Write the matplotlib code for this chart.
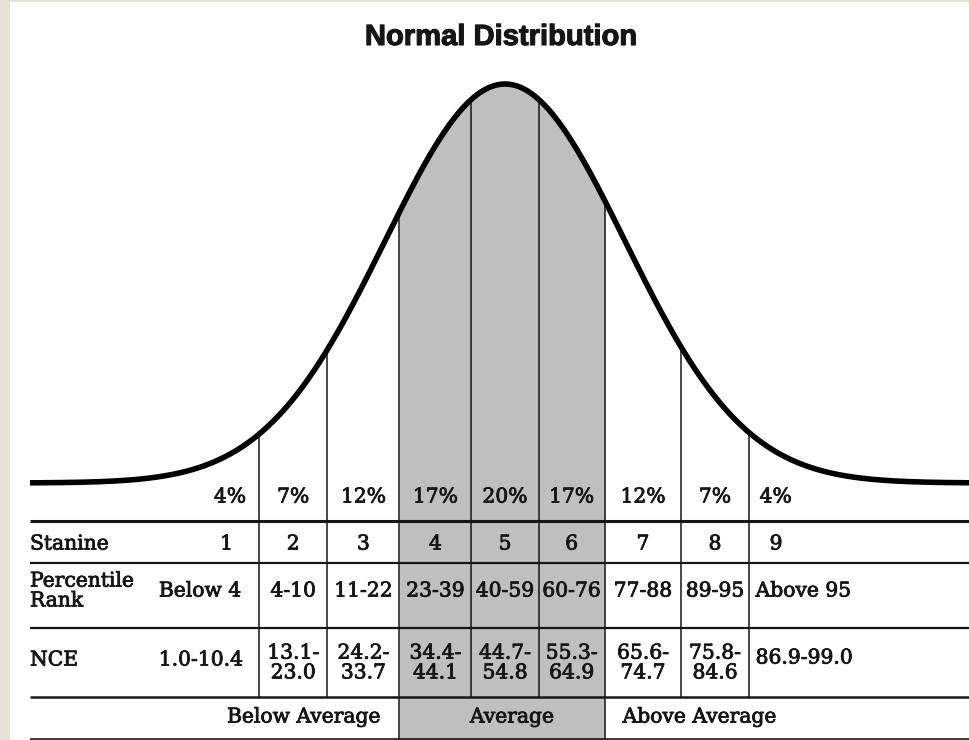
import numpy as np
import matplotlib.pyplot as plt
import matplotlib.patheffects as pe

# stanine column edges, in standard deviations of the drawn curve
edges_z = [-2.05, -1.48, -0.88, -0.28, 0.28, 0.83, 1.47, 2.03]
percents = ["4%", "7%", "12%", "17%", "20%", "17%", "12%", "7%", "4%"]
stanines = ["1", "2", "3", "4", "5", "6", "7", "8", "9"]
percentile = ["Below 4", "4-10", "11-22", "23-39", "40-59", "60-76", "77-88", "89-95", "Above 95"]
nce = ["1.0-10.4", "13.1-\n23.0", "24.2-\n33.7", "34.4-\n44.1", "44.7-\n54.8",
       "55.3-\n64.9", "65.6-\n74.7", "75.8-\n84.6", "86.9-99.0"]
row_labels = ["Stanine", "Percentile\nRank", "NCE"]
groups = ["Below Average", "Average", "Above Average"]
avg_cols = (3, 6)  # stanines 4-6 are shaded

# layout: x in z units (120 px per sd, mean at px 505), y in pixel rows
PX = 120.0
MID = 505.0
def zx(px):
    return (px - MID) / PX

BASE, PEAK = 483, 399
def curve(z):
    return BASE - PEAK * np.exp(-np.asarray(z) ** 2 / 2)

ink = "#161616"
gray = "#bfbfbf"
heavy = [pe.withStroke(linewidth=0.6, foreground=ink)]
txt = dict(family=["DejaVu Serif"], fontsize=14.6, color=ink, path_effects=heavy)

fig = plt.figure(figsize=(9.69, 7.40), dpi=100)
fig.patch.set_facecolor("#e4e2d5")
ax = fig.add_axes([10 / 969, 0, 959 / 969, 738 / 740])
ax.set_facecolor("white")
ax.set_xlim(zx(10), zx(969))
ax.set_ylim(740, 2)
ax.axis("off")
ax.add_patch(plt.Rectangle((zx(10), 2), zx(969) - zx(10), 738, color="white", zorder=0))

left, right = zx(30), zx(969)

# shaded average band
zz = np.linspace(edges_z[avg_cols[0] - 1], edges_z[avg_cols[1] - 1], 200)
ax.fill_between(zz, curve(zz), 740, color=gray, lw=0, zorder=1)

# column dividers
for i, e in enumerate(edges_z):
    bottom = 740 if i in (avg_cols[0] - 1, avg_cols[1] - 1) else 697
    ax.plot([e, e], [curve(e), bottom], color=ink, lw=1.1, zorder=2)

# row rules
for y, lw in [(521, 2.2), (563, 1.6), (628, 1.6), (697, 1.8), (739, 1.2)]:
    ax.plot([left, right], [y, y], color=ink, lw=lw, zorder=3, solid_capstyle="butt")

# the curve
zc = np.linspace(left, right, 600)
ax.plot(zc, curve(zc), color="black", lw=4.0, zorder=4, solid_capstyle="butt")

ax.text(zx(501), 37, "Normal Distribution", ha="center", va="center",
        family=["Liberation Sans", "DejaVu Sans"], weight="bold",
        fontsize=21, color=ink, path_effects=[pe.withStroke(linewidth=0.8, foreground=ink)])

centers = [(edges_z[i - 1] + edges_z[i]) / 2 for i in range(1, 8)]
rows = [(percents, 497, 13, 11), (stanines, 544, 26, 21),
        (percentile, 591, 18, 7), (nce, 660, 16, 7)]
for vals, y, rpad, lpad in rows:
    ax.text(edges_z[0] - rpad / PX, y, vals[0], ha="right", va="center", **txt)
    for c, v in zip(centers, vals[1:8]):
        yy = y + 3 if "\n" in v else y
        ax.text(c, yy, v, ha="center", va="center", linespacing=1.05, **txt)
    ax.text(edges_z[7] + lpad / PX, y - 2 if vals is nce else y, vals[8],
            ha="left", va="center", **txt)

for lab, y in zip(row_labels, [544, 591, 660]):
    ax.text(left, y, lab, ha="left", va="center", linespacing=1.05, **txt)

ax.text(edges_z[2] - 19 / PX, 717, groups[0], ha="right", va="center", **txt)
ax.text((edges_z[2] + edges_z[5]) / 2 + 10 / PX, 717, groups[1], ha="center",
        va="center", **txt)
ax.text(edges_z[5] + 18 / PX, 717, groups[2], ha="left", va="center", **txt)

fig.savefig("out.png", dpi=100, facecolor=fig.get_facecolor())
